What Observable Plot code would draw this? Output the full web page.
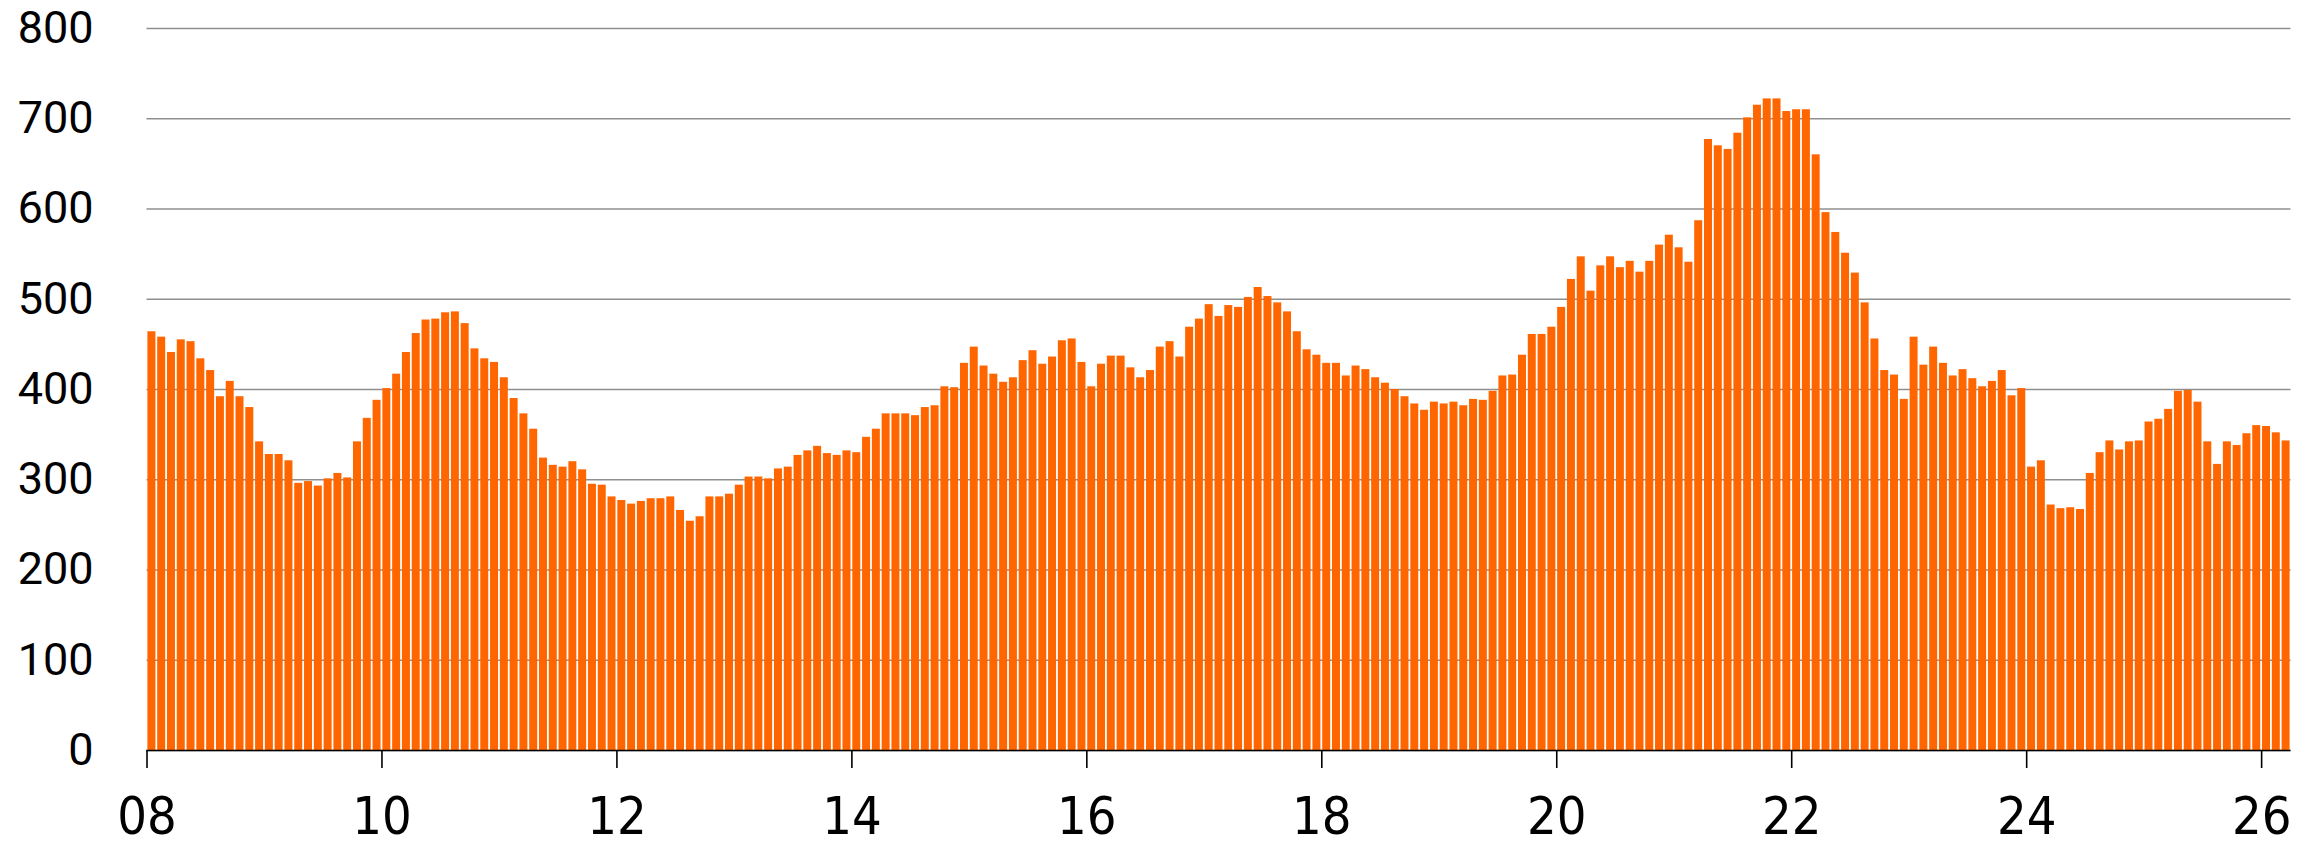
<!DOCTYPE html>
<html>
<head>
<meta charset="utf-8">
<script src="https://cdn.jsdelivr.net/npm/d3@7"></script>
<script src="https://cdn.jsdelivr.net/npm/@observablehq/plot@0.6"></script>
<style>
  html, body { margin: 0; padding: 0; background: #ffffff; }
  #chart svg { display: block; }
  g[aria-label="x-axis tick label"] text { font-family: "Liberation Sans Narrow", "DejaVu Sans Condensed", "Open Sans", sans-serif; }
</style>
</head>
<body>
<div id="chart"></div>
<script>
// Monthly values, Jan 2008 .. Mar 2026
const startYear = 2008;
const values = [
  464, 458, 441, 455, 453, 434, 421, 392, 409, 392, 380, 342,
  328, 328, 321, 296, 298, 293, 301, 307, 302, 342, 368, 388,
  401, 417, 441, 462, 477, 478, 485, 486, 473, 445, 434, 430,
  413, 390, 373, 356, 324, 316, 314, 320, 311, 295, 294, 281,
  277, 273, 276, 279, 279, 281, 266, 254, 259, 281, 281, 284,
  294, 303, 303, 301, 312, 314, 327, 332, 337, 329, 327, 332,
  330, 347, 356, 373, 373, 373, 371, 380, 382, 403, 402, 429,
  447, 426, 417, 408, 413, 432, 443, 428, 436, 454, 456, 430,
  403, 428, 437, 437, 424, 413, 421, 447, 453, 436, 469, 478,
  494, 481, 493, 491, 502, 513, 503, 496, 486, 464, 444, 438,
  429, 429, 415, 426, 422, 413, 407, 400, 392, 384, 377, 386,
  384, 386, 382, 389, 388, 398, 415, 416, 438, 461, 461, 469,
  491, 522, 547, 509, 537, 547, 535, 542, 530, 542, 560, 571,
  557, 541, 587, 677, 670, 666, 684, 701, 715, 722, 722, 708,
  710, 710, 660, 596, 574, 551, 529, 496, 456, 421, 416, 389,
  458, 427, 447, 429, 415, 422, 412, 403, 409, 421, 393, 401,
  314, 321, 272, 268, 269, 267, 307, 330, 343, 333, 342, 343,
  364, 367, 378, 398, 399, 386, 342, 317, 342, 338, 351, 360,
  359, 352, 343
];
const tickLabels = ["08", "10", "12", "14", "16", "18", "20", "22", "24", "26"];
const yTicks = [0, 100, 200, 300, 400, 500, 600, 700, 800];

const bars = values.map((v, i) => ({i, v}));
const xTicks = tickLabels.map((_, k) => k * 24);

const chart = Plot.plot({
  width: 2320,
  height: 845,
  marginLeft: 146.5,
  marginRight: 29.5,
  marginTop: 28,
  marginBottom: 95,
  style: {background: "#ffffff", color: "#000000"},
  x: {type: "linear", domain: [0, values.length], axis: null, label: null},
  y: {domain: [0, 800], axis: null, label: null},
  marks: [
    Plot.gridY(yTicks, {stroke: "#8f8f8f", strokeOpacity: 1, strokeWidth: 1.4}),
    Plot.rectY(bars, {x1: "i", x2: d => d.i + 1, y: "v", fill: "#ff6600", insetLeft: 0.9, insetRight: 0.9}),
    Plot.ruleY([0], {stroke: "#000000", strokeWidth: 1.6}),
    Plot.axisX(xTicks, {
      label: null,
      tickSize: 18, tickPadding: 29, fontSize: 52, strokeWidth: 1.6,
      tickFormat: (d) => tickLabels[d / 24], fill: "#000000"
    }),
    Plot.axisY(yTicks, {
      label: null,
      tickSize: 0, tickPadding: 53.5, fontSize: 45, fontFamily: "Roboto, 'Open Sans', sans-serif",
      fill: "#000000"
    })
  ]
});
document.getElementById("chart").appendChild(chart);
</script>
</body>
</html>
